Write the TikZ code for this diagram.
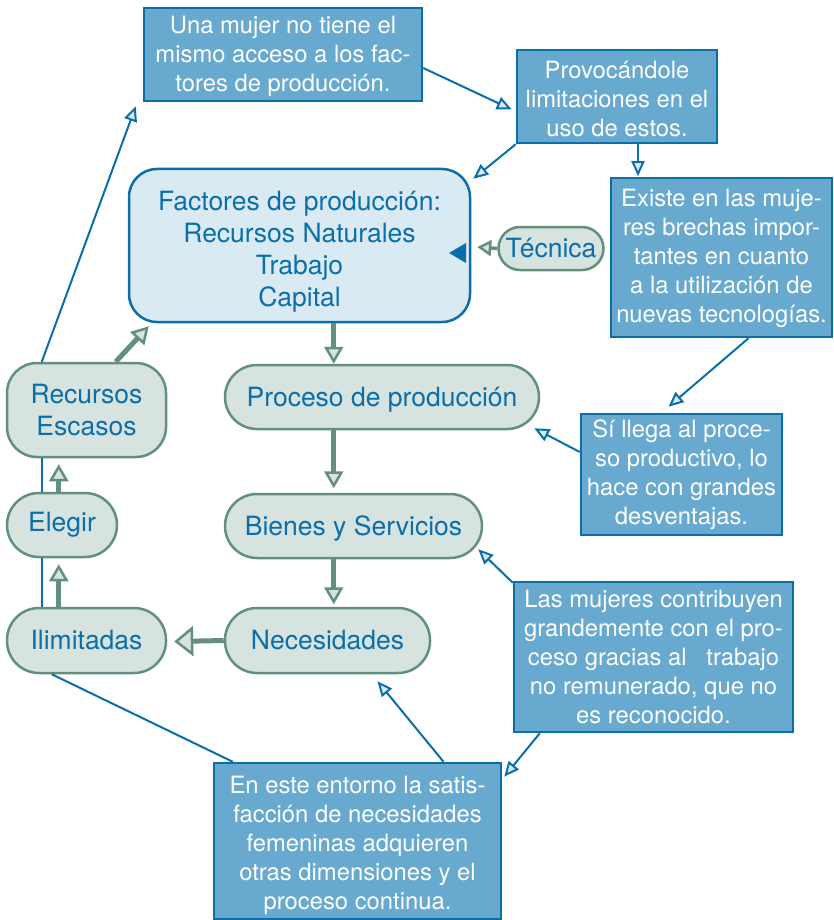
\documentclass[tikz,border=0pt]{standalone}
\usepackage{fontspec}
\setmainfont{TeX Gyre Heros}
\usetikzlibrary{arrows.meta,calc}
\definecolor{dblue}{HTML}{0A6EAA}
\definecolor{mblue}{HTML}{68A9CF}
\definecolor{lblue}{HTML}{DAEAF3}
\definecolor{gborder}{HTML}{62907C}
\definecolor{gfill}{HTML}{D6E3DE}
\newcommand\mystrut[1]{\rule{0pt}{#1}}
\begin{document}
\begin{tikzpicture}[x=1pt,y=-1pt,
  infobox/.style={rectangle, draw=dblue, fill=mblue, line width=2.5pt, text=white, align=center, inner sep=0pt, font=\fontsize{23.8}{29}\selectfont},
  concept/.style={rectangle, draw=gborder, fill=gfill, line width=2.5pt, text=dblue, align=center, inner sep=0pt, font=\fontsize{26.5}{32}\selectfont},
  bluelink/.style={draw=dblue, line width=2pt},
  bluearrow/.style={bluelink, -{Triangle[length=15pt,width=13pt,line width=2pt,fill=lblue]}},
  greenarrow/.style={draw=gborder, line width=5pt, -{Triangle[length=17pt,width=19pt,line width=2.5pt,fill=gfill]}},
  greenwide/.style={draw=gborder, line width=5pt, -{Triangle[length=19pt,width=30pt,line width=2.5pt,fill=gfill]}},
  greensmall/.style={draw=gborder, line width=3.5pt, -{Triangle[length=14pt,width=16pt,line width=2.5pt,fill=gfill]}},
]
\useasboundingbox (0,0) rectangle (834,920);

% nodes
\node[infobox, minimum width=278pt, minimum height=93pt] (una) at (283,54.5) {\mystrut{22pt}Una mujer no tiene el\\mismo acceso a los fac-\\tores de producción.};
\node[infobox, minimum width=200pt, minimum height=93pt] (prov) at (617,96.5) {\mystrut{22pt}Provocándole\\limitaciones en el\\uso de estos.};
\node[concept, draw=dblue, fill=lblue, rounded corners=28pt, minimum width=341pt, minimum height=153pt] (fac) at (299.5,245.5) {\mystrut{31pt}Factores de producción:\\Recursos Naturales\\Trabajo\\Capital};
\node[concept, rounded corners=21.5pt, minimum width=105pt, minimum height=43pt] (tec) at (551,248.5) {Técnica};
\node[infobox, minimum width=221pt, minimum height=159pt] (exi) at (721.5,257.5) {\mystrut{20pt}Existe en las muje-\\res brechas impor-\\tantes en cuanto\\a la utilización de\\nuevas tecnologías.};
\node[concept, rounded corners=30pt, minimum width=159pt, minimum height=94pt] (rec) at (86.5,410) {Recursos\\Escasos};
\node[concept, rounded corners=32pt, minimum width=314pt, minimum height=64pt] (pro) at (382,397) {\mystrut{25pt}Proceso de producción};
\node[infobox, minimum width=201pt, minimum height=121pt] (si) at (681.5,474.5) {Sí llega al proce-\\so productivo, lo\\hace con grandes\\desventajas.};
\node[concept, rounded corners=32pt, minimum width=110pt, minimum height=64pt] (ele) at (62,525) {Elegir};
\node[concept, rounded corners=32pt, minimum width=257pt, minimum height=64pt] (bie) at (353.5,526) {\mystrut{25pt}Bienes y Servicios};
\node[infobox, minimum width=279pt, minimum height=150pt] (las) at (653.5,657) {Las mujeres contribuyen\\grandemente con el pro-\\ceso gracias al\ \ \ trabajo\\no remunerado, que no\\es reconocido.};
\node[concept, rounded corners=32pt, minimum width=159pt, minimum height=65pt] (ili) at (86.5,640.5) {Ilimitadas};
\node[concept, rounded corners=32pt, minimum width=205pt, minimum height=65pt] (nec) at (327.5,640.5) {Necesidades};
\node[infobox, minimum width=287pt, minimum height=156pt] (eng) at (357.5,841) {\mystrut{27pt}En este entorno la satis-\\facción de necesidades\\femeninas adquieren\\otras dimensiones y el\\proceso continua.};

% filled triangle inside Factores
\fill[dblue] (449,253) -- (466,243) -- (466,263) -- cycle;

% blue connectors
\draw[bluearrow] ($(rec.north west)+(36,0)$) -- ($(una.south west)+(-7,4)$);
\draw[bluearrow] ($(una.east)+(0,13.5)$) -- ($(prov.west)+(-4,13)$);
\draw[bluearrow] (prov.south west) -- ($(fac.north east)+(2,11)$);
\draw[bluearrow] ($(prov.south)+(21,0)$) -- ($(prov.south)+(21,32)$);
\draw[bluearrow] ($(exi.south)+(27,0)$) -- ($(si.north)+(-13,-6)$);
\draw[bluearrow] ($(si.west)+(0,-22.5)$) -- ($(pro.south east)+(-6,-2)$);
\draw[bluearrow] ($(las.north west)+(0,2)$) -- ($(bie.south east)+(-5,-10)$);
\draw[bluearrow] ($(las.south west)+(27,0)$) -- ($(eng.north east)+(2,15)$);
\draw[bluearrow] ($(eng.north)+(86,0)$) -- ($(nec.south)+(50,7)$);
\draw[bluelink] ($(ili.south west)+(46,0)$) -- ($(eng.north west)+(20,0)$);
\draw[bluelink] ($(ili.north west)+(36,0)$) -- ($(ele.south west)+(36,0)$);
\draw[bluelink] ($(ele.north west)+(36,0)$) -- ($(rec.south west)+(36,0)$);

% green connectors
\coordinate (g1) at ($(fac.south west)+(206,0)$);
\draw[greenarrow] (g1) -- (g1 |- pro.north);
\draw[greenarrow] ($(pro.south west)+(110,0)$) -- ($(pro.south west)+(110,58)$);
\draw[greenarrow] ($(bie.south west)+(110,0)$) -- ($(bie.south west)+(110,45)$);
\draw[greenwide] (nec.west) -- ($(ili.east)+(7,1)$);
\draw[greenarrow] ($(ili.north west)+(53,0)$) -- ($(ele.south west)+(53,6)$);
\draw[greenarrow] ($(ele.north west)+(53,0)$) -- ($(rec.south west)+(53,6)$);
\draw[greenarrow] ($(rec.north west)+(110,0)$) -- ($(fac.south west)+(21,3)$);
\draw[greensmall] (tec.west) -- ($(fac.east)+(6,1.5)$);
\end{tikzpicture}
\end{document}
